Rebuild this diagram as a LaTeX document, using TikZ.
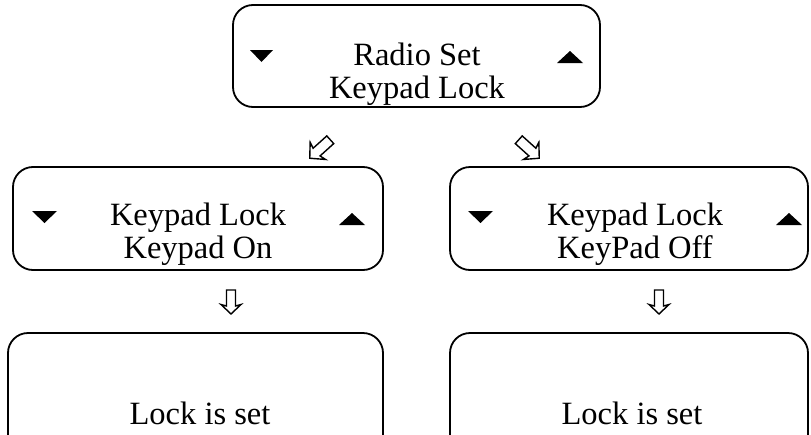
\documentclass[tikz,border=0pt]{standalone}
\usepackage{fontspec}
\setmainfont{Liberation Serif}
\begin{document}
\begin{tikzpicture}[x=1pt,y=-1pt,
  lcd/.style={draw, line width=1.8pt, rounded corners=20pt, inner sep=0pt},
  txt/.style={font=\fontsize{32.5}{33}\selectfont, align=center, inner sep=0pt},
  blockarrow/.pic={\draw[line width=1.4pt, line join=miter, fill=white]
    (-12,-4.5) -- (4,-4.5) -- (2.5,-10) -- (12,0) -- (2.5,10) -- (4,4.5) -- (-12,4.5) -- cycle;}
]
\useasboundingbox (0,0) rectangle (811,434);
\clip (0,0) rectangle (811,434);
% boxes
\node[lcd, minimum width=367pt, minimum height=102pt] (top) at (416.5,56) {};
\node[lcd, minimum width=370pt, minimum height=103pt] (ml) at (198,218.5) {};
\node[lcd, minimum width=358pt, minimum height=103pt] (mr) at (629,218.5) {};
\node[lcd, minimum width=375pt, minimum height=150pt] (bl) at (195.5,408) {};
\node[lcd, minimum width=358pt, minimum height=150pt] (br) at (629,408) {};
% texts
\node[txt] (toptxt) at (417,74) {Radio Set\\Keypad Lock};
\node[txt] (mltxt) at (198,234) {Keypad Lock\\Keypad On};
\node[txt] (mrtxt) at (635,234) {Keypad Lock\\KeyPad Off};
\node[txt] (bltxt) at (200,413) {Lock is set};
\node[txt] (brtxt) at (632,413) {Lock is set};
% scroll triangles
\fill (250,50) -- (273,50) -- (261.5,62) -- cycle;
\fill (557,63) -- (583,63) -- (570,51) -- cycle;
\fill (32,211) -- (57,211) -- (44.5,223) -- cycle;
\fill (339,225) -- (365,225) -- (352,213) -- cycle;
\fill (468,211) -- (493,211) -- (480.5,223) -- cycle;
\fill (776,225) -- (802,225) -- (789,213) -- cycle;
% block arrows
\pic[rotate=222, scale=1.15] (a1) at (320,149) {blockarrow};
\pic[rotate=-42, scale=1.15] (a2) at (529,149) {blockarrow};
\pic[rotate=-90] (a3) at (231,302) {blockarrow};
\pic[rotate=-90] (a4) at (659,302) {blockarrow};
\end{tikzpicture}
\end{document}
